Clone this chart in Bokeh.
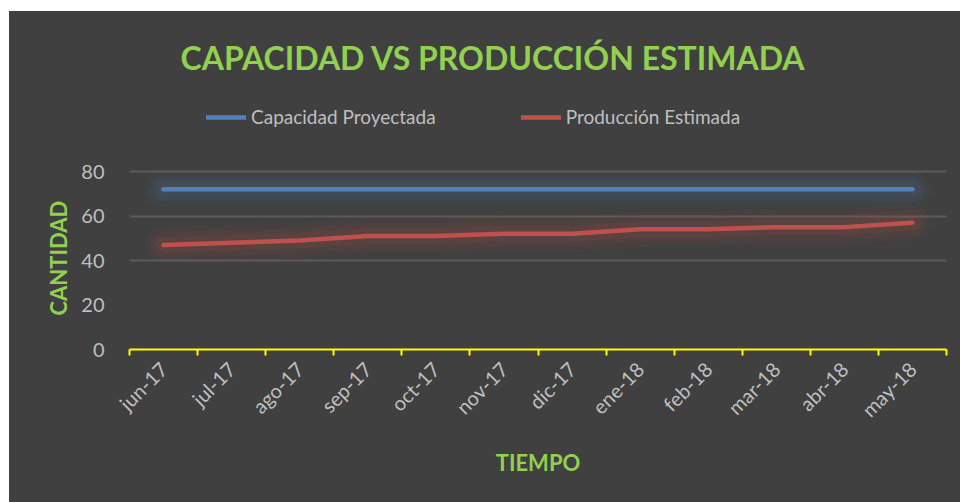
import numpy as np
from bokeh.plotting import figure
from bokeh.models import (Legend, LegendItem, Title, FixedTicker, Range1d)
from bokeh.embed import file_html
from bokeh.resources import INLINE

months = ["jun-17", "jul-17", "ago-17", "sep-17", "oct-17", "nov-17",
          "dic-17", "ene-18", "feb-18", "mar-18", "abr-18", "may-18"]
capacidad = [72, 72, 72, 72, 72, 72, 72, 72, 72, 72, 72, 72]
produccion = [47, 48, 49, 51, 51, 52, 52, 54, 54, 55, 55, 57]
y_ticks = [0, 20, 40, 60, 80]

BG = "#404040"
GREEN = "#92d050"
LABEL = "#bfbfbf"
BLUE = "#4f81bd"
RED = "#c0504d"
FONT = "Lato"

xs = np.arange(len(months)) + 0.5

# frame extends above the value 80 to host the legend; 80 sits 178px above 0
FRAME_H = 249
Y_TOP = 80 * FRAME_H / 178

p = figure(frame_width=817, frame_height=FRAME_H,
           min_border_left=120, min_border_right=14,
           min_border_top=89, min_border_bottom=153,
           x_range=Range1d(0, len(months)), y_range=Range1d(0, Y_TOP),
           output_backend="svg", toolbar_location=None, title=None,
           background_fill_color=BG, border_fill_color=BG,
           outline_line_color=None)
p.margin = (11, 0, 0, 9)
p.styles = {"background-color": BG}

# glow
for w, a in [(36, 0.05), (26, 0.07), (16, 0.1)]:
    p.line(xs, capacidad, line_color=BLUE, line_width=w, line_alpha=a,
           line_cap="round", line_join="round")
    p.line(xs, produccion, line_color=RED, line_width=w, line_alpha=a,
           line_cap="round", line_join="round")

r1 = p.line(xs, capacidad, line_color=BLUE, line_width=4.5,
            line_cap="round", line_join="round")
r2 = p.line(xs, produccion, line_color=RED, line_width=4.5,
            line_cap="round", line_join="round")

# x axis
xa = p.xaxis[0]
xa.ticker = FixedTicker(ticks=list(xs), minor_ticks=list(range(len(months) + 1)))
xa.major_label_overrides = {float(x): m for x, m in zip(xs, months)}
xa.major_label_orientation = np.pi / 4
xa.major_tick_line_color = None
xa.minor_tick_line_color = "#ffff00"
xa.minor_tick_line_width = 2
xa.minor_tick_in = 0
xa.minor_tick_out = 6
xa.axis_line_color = "#ffff00"
xa.axis_line_width = 2
xa.major_label_text_color = LABEL
xa.major_label_text_font = FONT
xa.major_label_text_font_size = "20px"
xa.major_label_standoff = 10
xa.axis_label = "TIEMPO"
xa.axis_label_text_color = GREEN
xa.axis_label_text_font = FONT
xa.axis_label_text_font_style = "bold"
xa.axis_label_text_font_size = "22px"
xa.axis_label_standoff = 16

# y axis
ya = p.yaxis[0]
ya.ticker = FixedTicker(ticks=y_ticks)
ya.axis_line_color = None
ya.major_tick_line_color = None
ya.minor_tick_line_color = None
ya.major_label_text_color = LABEL
ya.major_label_text_font = FONT
ya.major_label_text_font_size = "20px"
ya.major_label_standoff = 19

# y axis title placed as a left-side Title so it can be centred on 0..80
ytitle = Title(text="CANTIDAD", align="left", offset=34,
               text_color=GREEN, text_font=FONT, text_font_style="bold",
               text_font_size="22px", standoff=13)
p.add_layout(ytitle, "left")

p.xgrid.grid_line_color = None
p.ygrid.ticker = FixedTicker(ticks=[40, 60, 80])
p.ygrid.grid_line_color = "#5a5a5a"
p.ygrid.grid_line_width = 2

legend = Legend(items=[LegendItem(label="Capacidad Proyectada", renderers=[r1]),
                       LegendItem(label="Producción Estimada", renderers=[r2])],
                orientation="horizontal", location=(77, 221),
                background_fill_alpha=0, border_line_color=None,
                label_text_color=LABEL, label_text_font=FONT,
                label_text_font_size="19px", glyph_width=40, glyph_height=20,
                label_standoff=5, spacing=85, padding=0, margin=0)
p.add_layout(legend, "center")

title = Title(text="CAPACIDAD VS PRODUCCIÓN ESTIMADA", align="left", offset=51,
              text_color=GREEN, text_font=FONT, text_font_style="bold",
              text_font_size="32px", standoff=48)
p.add_layout(title, "above")

open("out.html", "w").write(file_html(p, INLINE))
